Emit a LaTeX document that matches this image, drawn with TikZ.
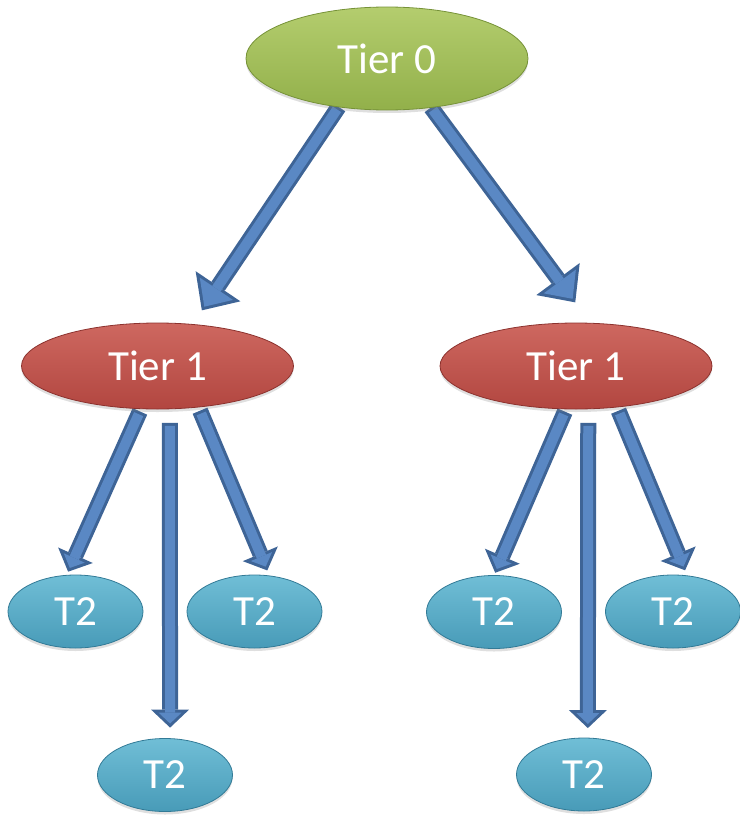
\documentclass[tikz,border=0pt]{standalone}
\usepackage{fontspec}
\setmainfont{Carlito}
\usetikzlibrary{shapes.geometric,arrows.meta,calc,shadows,backgrounds}

\definecolor{greenTop}{RGB}{180,205,110}
\definecolor{greenMid}{RGB}{164,193,92}
\definecolor{greenBot}{RGB}{146,176,74}
\definecolor{greenEdge}{RGB}{118,146,56}
\definecolor{redTop}{RGB}{206,104,96}
\definecolor{redMid}{RGB}{195,84,76}
\definecolor{redBot}{RGB}{178,70,64}
\definecolor{redEdge}{RGB}{140,50,46}
\definecolor{blueTop}{RGB}{112,190,214}
\definecolor{blueMid}{RGB}{88,172,200}
\definecolor{blueBot}{RGB}{72,155,184}
\definecolor{blueEdge}{RGB}{50,122,150}
\definecolor{arrowFill}{RGB}{90,136,196}
\definecolor{arrowEdge}{RGB}{62,100,150}

\tikzset{
	tiernode/.style={ellipse,inner sep=0pt,outer sep=0pt,line width=0.8pt,text=white,
		font=\fontsize{43}{48}\selectfont,
		drop shadow={opacity=0.25,shadow xshift=0pt,shadow yshift=-3pt}},
	tierzero/.style={tiernode,minimum width=282pt,minimum height=103pt,draw=greenEdge,
		top color=greenTop,middle color=greenMid,bottom color=greenBot},
	tierone/.style={tiernode,minimum width=272pt,minimum height=86pt,draw=redEdge,
		top color=redTop,middle color=redMid,bottom color=redBot},
	tiertwo/.style={tiernode,minimum width=135pt,minimum height=73pt,draw=blueEdge,
		top color=blueTop,middle color=blueMid,bottom color=blueBot},
	% block arrows: dark outline first, lighter body on top
	bigarrow/.style={draw=arrowEdge,line width=16pt,-{Triangle[length=29pt,width=54pt,line width=0pt]},
		postaction={draw=arrowFill,line width=10pt,shorten <=3pt,shorten >=4.4pt,
			-{Triangle[length=21.6pt,width=40pt,line width=0pt]}}},
	smallarrow/.style={draw=arrowEdge,line width=16pt,-{Triangle[length=18pt,width=38pt,line width=0pt]},
		postaction={draw=arrowFill,line width=10pt,shorten <=3pt,shorten >=4.1pt,
			-{Triangle[length=10.9pt,width=23pt,line width=0pt]}}}
}

\begin{document}
\begin{tikzpicture}[x=1pt,y=-1pt]
	\useasboundingbox (0,0) rectangle (739,816);

	% top of the tree
	\node[tierzero] (t0) at (387,58.5) {Tier 0};
	\node[tierone] (t1a) at (157.5,366) {Tier 1};
	\node[tierone] (t1b) at (576,366) {Tier 1};

	% leaves under the left Tier 1
	\node[tiertwo] (t2a) at (75.5,611.5) {T2};
	\node[tiertwo] (t2b) at (165,775) {T2};
	\node[tiertwo] (t2c) at (254.5,611.5) {T2};
	% leaves under the right Tier 1
	\node[tiertwo] (t2d) at (494,612) {T2};
	\node[tiertwo] (t2e) at (584,774.5) {T2};
	\node[tiertwo] (t2f) at (673,611.5) {T2};

	\begin{scope}[on background layer]
		\draw[bigarrow] (t0.225) -- ($(t1a.50)!17pt!(t0.225)$);
		\draw[bigarrow] (t0.312) -- ($(t1b.71)!26pt!(t0.312)$);

		\draw[smallarrow] ($(t1a.249)!3pt!(t2a.104)$) -- ($(t2a.104)!4pt!(t1a.249)$);
		\draw[smallarrow] ($(t1a.286)!14pt!(t2b.82)$) -- ($(t2b.82)!11pt!(t1a.286)$);
		\draw[smallarrow] ($(t1a.315)!4pt!(t2c.67)$) -- ($(t2c.67)!6pt!(t1a.315)$);

		\draw[smallarrow] ($(t1b.257)!3pt!(t2d.90)$) -- ($(t2d.90)!3pt!(t1b.257)$);
		\draw[smallarrow] ($(t1b.286)!14pt!(t2e.84)$) -- ($(t2e.84)!10pt!(t1b.286)$);
		\draw[smallarrow] ($(t1b.315)!4pt!(t2f.68)$) -- ($(t2f.68)!6pt!(t1b.315)$);
	\end{scope}
\end{tikzpicture}
\end{document}
